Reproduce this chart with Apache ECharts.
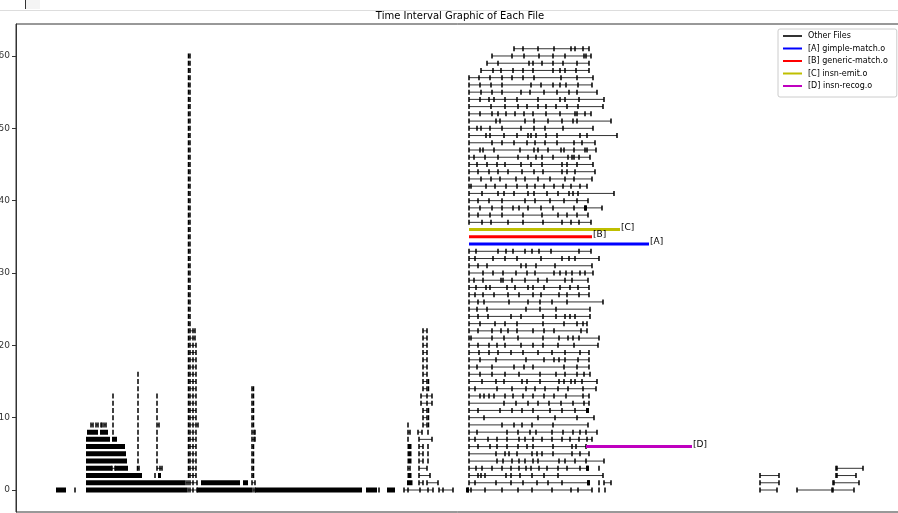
<!DOCTYPE html>
<html>
<head>
<meta charset="utf-8">
<title>Time Interval Graphic of Each File</title>
<script src="https://cdn.jsdelivr.net/npm/echarts@6/dist/echarts.min.js"></script>
<style>
  html, body { margin: 0; padding: 0; background: #fff; }
  #chart { width: 898px; height: 513px; }
</style>
</head>
<body>
<div id="chart"></div>
<script>
// y tick labels (row index of each file)
const yTicks = [0, 10, 20, 30, 40, 50, 60]

// highlighted files
const highlightNames = ['[A] gimple-match.o', '[B] generic-match.o', '[C] insn-emit.o', '[D] insn-recog.o']
const highlightTags = ['[A]', '[B]', '[C]', '[D]']
const highlightRows = [34, 35, 36, 6]
const highlightStart = [469, 469, 469, 586]
const highlightEnd = [649, 592, 620, 692]
const highlightColors = ['#0000ff', '#ff0000', '#bfbf00', '#bf00bf']

// other files: [row, t0, t1, ...] -> back to back files, a tick at every boundary
const otherFiles = [
  // left group
  [0, 75], [0, 188, 190, 193, 197], [0, 253, 255], [0, 379], [0, 404, 408, 420, 428, 433], [0, 439, 443, 453],
  [1, 186, 188, 190, 193, 197], [1, 252, 255], [1, 419, 423], [1, 427, 438],
  [2, 155], [2, 188.5, 190, 193, 196], [2, 252, 253.5], [2, 419, 430],
  [3, 112, 115], [3, 137.5, 139], [3, 157, 160, 162], [3, 188.5, 190, 193, 196], [3, 252, 253.5], [3, 408, 410], [3, 419, 427],
  [4, 138], [4, 157], [4, 188.5, 190, 193, 196], [4, 252, 253.5], [4, 419, 423], [4, 428],
  [5, 138], [5, 157], [5, 188.5, 190, 193, 196], [5, 252, 253.5], [5, 419, 423], [5, 428],
  [6, 138], [6, 157], [6, 188.5, 190, 193, 196], [6, 252, 253.5], [6, 419, 423], [6, 428],
  [7, 138], [7, 157], [7, 188.5, 190, 193, 196], [7, 252, 254, 255], [7, 408], [7, 419, 432],
  [8, 113], [8, 138], [8, 157], [8, 188.5, 190, 193, 196], [8, 252, 254, 255], [8, 408, 410], [8, 418, 422], [8, 428],
  [9, 91, 93], [9, 96, 98], [9, 101, 102], [9, 104, 106], [9, 113], [9, 138], [9, 157, 159], [9, 188.5, 190, 193, 196, 198], [9, 252, 253.5], [9, 408], [9, 423, 427], [9, 428.5],
  [10, 113], [10, 138], [10, 157], [10, 188.5, 190, 193, 196], [10, 252, 253.5], [10, 423, 427], [10, 428.5],
  [11, 113], [11, 138], [11, 157], [11, 188.5, 190, 193, 196], [11, 252, 253.5], [11, 423, 427], [11, 428.5],
  [12, 113], [12, 138], [12, 157], [12, 188.5, 190, 193, 196], [12, 252, 253.5], [12, 421, 427, 432],
  [13, 113], [13, 138], [13, 157], [13, 188.5, 190, 193, 196], [13, 252, 253.5], [13, 421, 427, 432],
  [14, 138], [14, 188.5, 190, 193, 196], [14, 252, 253.5], [14, 423, 427], [14, 428.5],
  [15, 138], [15, 188.5, 190, 193, 196], [15, 423, 427], [15, 428.5],
  [16, 138], [16, 188.5, 190, 193, 196], [16, 423, 427],
  [17, 188.5, 190, 193, 196], [17, 423, 427],
  [18, 188.5, 190, 193, 196], [18, 423, 427],
  [19, 188.5, 190, 193, 196], [19, 423, 427],
  [20, 188.5, 190, 193, 196], [20, 423, 427],
  [21, 188.5, 190, 193, 195], [21, 423, 427],
  [22, 188.5, 190, 193, 195], [22, 423, 427],
  [23, 188.5, 190], [24, 188.5, 190], [25, 188.5, 190], [26, 188.5, 190], [27, 188.5, 190],
  [28, 188.5, 190], [29, 188.5, 190], [30, 188.5, 190], [31, 188.5, 190], [32, 188.5, 190],
  [33, 188.5, 190], [34, 188.5, 190], [35, 188.5, 190], [36, 188.5, 190], [37, 188.5, 190],
  [38, 188.5, 190], [39, 188.5, 190], [40, 188.5, 190], [41, 188.5, 190], [42, 188.5, 190],
  [43, 188.5, 190], [44, 188.5, 190], [45, 188.5, 190], [46, 188.5, 190], [47, 188.5, 190],
  [48, 188.5, 190], [49, 188.5, 190], [50, 188.5, 190], [51, 188.5, 190], [52, 188.5, 190],
  [53, 188.5, 190], [54, 188.5, 190], [55, 188.5, 190], [56, 188.5, 190], [57, 188.5, 190],
  [58, 188.5, 190], [59, 188.5, 190], [60, 188.5, 190],
  // middle group
  [61, 514, 523, 538, 554, 571, 575, 583, 589],
  [60, 492, 512, 524, 539, 553, 565, 584, 586, 591],
  [59, 487, 498, 529, 533, 542, 553, 563, 577, 589],
  [58, 481, 493, 501, 513, 523, 533, 553, 560, 565, 576, 589],
  [57, 469, 479, 490, 502, 512, 523, 534, 561, 577, 593],
  [56, 469, 480, 491, 502, 531, 541, 553, 560, 566, 578, 592],
  [55, 469, 481, 492, 502, 521, 530, 544, 557, 569, 577, 597],
  [54, 469, 480, 489, 494, 505, 517, 538, 560, 565, 579, 604],
  [53, 469, 491, 505, 518, 527, 538, 546, 556, 567, 578, 603],
  [52, 469, 480, 492, 498, 506, 515, 524, 533, 546, 560, 575, 577, 585, 591],
  [51, 469, 496, 500, 525, 534, 548, 562, 573, 577, 611],
  [50, 469, 477, 481, 490, 502, 521, 534, 545, 563, 593],
  [49, 469, 486, 490, 504, 517, 528, 531, 536, 546, 557, 580, 587, 617],
  [48, 469, 492, 502, 514, 527, 535, 545, 557, 574, 582, 595],
  [47, 469, 480, 483, 494, 520, 534, 538, 548, 561, 564, 574, 585, 587, 596],
  [46, 469, 474, 485, 498, 518, 528, 536, 542, 553, 568, 572, 574, 579, 590],
  [45, 469, 477, 487, 497, 505, 521, 531, 542, 562, 567, 577, 593],
  [44, 469, 478, 489, 498, 508, 522, 534, 543, 562, 567, 575, 595],
  [43, 469, 481, 491, 500, 516, 525, 538, 550, 565, 574, 592],
  [42, 469, 471, 486, 495, 506, 517, 527, 535, 544, 554, 563, 571, 580, 587],
  [41, 469, 482, 498, 504, 514, 528, 534, 547, 558, 569, 573, 578, 614],
  [40, 469, 478, 489, 502, 525, 535, 550, 564, 577, 588],
  [39, 469, 480, 492, 502, 513, 519, 528, 541, 553, 574, 585, 586, 602],
  [38, 469, 478, 490, 502, 523, 542, 558, 567, 577, 588],
  [37, 469, 482, 491, 508, 523, 543, 562, 571, 579, 591],
  [33, 469, 476, 498, 506, 513, 525, 532, 539, 551, 579, 591],
  [32, 469, 475, 493, 505, 517, 541, 562, 569, 575, 599],
  [31, 469, 478, 487, 521, 526, 536, 555, 592],
  [30, 469, 483, 493, 503, 516, 527, 535, 554, 560, 566, 572, 580, 585, 593],
  [29, 469, 474, 483, 501, 503, 512, 525, 538, 547, 565, 572, 588],
  [28, 469, 476, 486, 490, 507, 515, 528, 533, 544, 560, 570, 578, 589],
  [27, 469, 475, 483, 494, 508, 519, 533, 541, 559, 567, 579, 589],
  [26, 469, 478, 484, 509, 528, 540, 552, 567, 603],
  [25, 469, 477, 487, 526, 540, 556, 590],
  [24, 469, 478, 488, 511, 521, 543, 556, 565, 570, 575, 590],
  [23, 469, 480, 495, 505, 517, 543, 564, 577, 583, 587],
  [22, 469, 478, 492, 501, 508, 517, 533, 544, 554, 581, 587],
  [21, 469, 471, 492, 504, 518, 543, 559, 568, 573, 579, 599],
  [20, 469, 478, 489, 497, 505, 521, 533, 543, 558, 574, 598],
  [19, 469, 479, 489, 498, 511, 523, 538, 552, 565, 580, 589],
  [18, 469, 480, 496, 526, 544, 554, 559, 565, 578, 589],
  [17, 469, 477, 492, 514, 524, 533, 564, 577, 589],
  [16, 469, 480, 492, 505, 519, 540, 556, 565, 577, 584, 590],
  [15, 469, 482, 496, 504, 522, 527, 540, 559, 564, 571, 575, 582, 597],
  [14, 469, 475, 497, 512, 526, 535, 545, 558, 568, 583, 596],
  [13, 469, 480, 484, 489, 494, 505, 513, 523, 533, 544, 554, 566, 583, 589],
  [12, 469, 504, 516, 528, 538, 549, 561, 573, 584, 589],
  [11, 469, 478, 500, 512, 522, 533, 550, 562, 575, 587, 588],
  [10, 469, 484, 538, 555, 577, 594],
  [9, 469, 502, 514, 522, 532, 553, 588],
  [8, 469, 477, 507, 518, 530, 536, 552, 563, 573, 580, 586, 597],
  [7, 469, 475, 488, 497, 507, 519, 525, 533, 542, 552, 562, 570, 579, 587, 592],
  [6, 469, 478, 490, 497, 507, 518, 527, 533, 553, 572, 576, 586],
  [5, 469, 496, 505, 509, 517, 532, 537, 542, 553, 572, 580, 589],
  [4, 469, 497, 503, 512, 519, 525, 533, 538, 559, 565, 575, 586, 604],
  [3, 469, 476, 482, 492, 502, 511, 519, 526, 531, 539, 547, 558, 567, 580, 587, 588], [3, 599],
  [2, 469, 478, 481, 485, 506, 511, 520, 532, 544, 558, 603],
  [1, 469, 475, 496, 511, 523, 537, 548, 562, 588, 589], [1, 599], [1, 604, 611],
  [0, 468, 471, 485, 502, 518, 532, 552, 571, 578, 592], [0, 599], [0, 605],
  // right group
  [3, 836, 837, 863],
  [2, 760, 779], [2, 836, 837, 856],
  [1, 760, 779], [1, 833, 834, 859],
  [0, 760, 777], [0, 797, 832, 833, 854],
]

// runs of files too short to tell apart at this scale: [row, start, end]
const denseRuns = [
  [0, 56, 66], [0, 86, 187], [0, 197, 252], [0, 255, 362], [0, 366, 377], [0, 387, 395], [0, 466, 469],
  [1, 86, 185], [1, 201, 240], [1, 243, 248], [1, 407, 412.5],
  [2, 86, 142], [2, 158, 161], [2, 407.5, 411.5],
  [3, 86, 112], [3, 115, 128],
  [4, 86, 127], [4, 407.5, 411.5],
  [5, 86, 126], [5, 407.5, 411.5],
  [6, 86, 125], [6, 407.5, 411.5],
  [7, 86, 110], [7, 112, 117],
  [8, 87, 98], [8, 100, 108],
  [39, 584, 587], [11, 586, 589], [3, 586, 589], [1, 587, 590],
]

const toLineData = (entries) => {
  const out = []
  entries.forEach((e) => {
    e.slice(1).forEach((t) => out.push([t, e[0]]))
    out.push(['-', '-'])
  })
  return out
}

const chart = echarts.init(document.getElementById('chart'))

const highlightSeries = highlightNames.map((name, i) => ({
  name,
  type: 'line',
  data: [[highlightStart[i], highlightRows[i]], [highlightEnd[i], highlightRows[i]]],
  symbol: 'none',
  lineStyle: { color: highlightColors[i], width: 3 },
  itemStyle: { color: highlightColors[i] },
  endLabel: {
    show: true,
    formatter: highlightTags[i],
    color: '#000',
    fontSize: 9,
    distance: 1,
    offset: [0, -2],
  },
  z: 5,
}))

const option = {
  animation: false,
  backgroundColor: '#fff',
  textStyle: { fontFamily: 'DejaVu Sans' },
  title: {
    text: 'Time Interval Graphic of Each File',
    left: 460,
    top: 11,
    textAlign: 'center',
    padding: 0,
    textStyle: { fontSize: 10, fontWeight: 'normal', color: '#000' },
  },
  graphic: [
    { type: 'line', shape: { x1: 0, y1: 10.5, x2: 898, y2: 10.5 }, style: { stroke: '#ddd', lineWidth: 1 } },
    { type: 'rect', shape: { x: 26, y: 0, width: 14, height: 9 }, style: { fill: '#f4f4f4' } },
    { type: 'line', shape: { x1: 25.5, y1: 0, x2: 25.5, y2: 9 }, style: { stroke: '#333', lineWidth: 1 } },
  ],
  legend: {
    orient: 'vertical',
    left: 778,
    top: 29,
    padding: [2, 9, 6, 4],
    itemWidth: 19,
    itemHeight: 3,
    itemGap: 2.5,
    backgroundColor: '#fff',
    borderColor: '#ccc',
    borderWidth: 1,
    borderRadius: 2,
    textStyle: { fontSize: 8, lineHeight: 10, color: '#000', padding: [0, 0, 0, 1] },
    data: [
      { name: 'Other Files', itemStyle: { opacity: 0 } },
      ...highlightNames.map((name) => ({ name, itemStyle: { opacity: 0 } })),
    ],
  },
  grid: {
    left: 16, right: -6, top: 24, bottom: 1,
    outerBoundsMode: 'none',
    show: true, borderColor: '#333', borderWidth: 1,
  },
  xAxis: {
    type: 'value',
    min: 16,
    max: 904,
    axisLine: { show: false },
    axisTick: { show: false },
    axisLabel: { show: false },
    splitLine: { show: false },
  },
  yAxis: {
    type: 'value',
    min: -3.04,
    max: 64.42,
    axisLine: { show: true, lineStyle: { color: '#333' } },
    axisTick: { show: true, length: 4, customValues: yTicks, lineStyle: { color: '#333' } },
    axisLabel: { customValues: yTicks, color: '#333', fontSize: 9, margin: 6 },
    splitLine: { show: false },
  },
  series: [
    {
      name: 'Other Files',
      type: 'line',
      data: toLineData(otherFiles),
      connectNulls: false,
      symbol: 'rect',
      symbolSize: [1.5, 5],
      showAllSymbol: true,
      lineStyle: { color: '#333', width: 1 },
      itemStyle: { color: '#000' },
      silent: true,
      emphasis: { disabled: true },
      z: 3,
    },
    {
      name: 'Other Files',
      type: 'line',
      data: denseRuns.flatMap((r) => [[r[1], r[0]], [r[2], r[0]], ['-', '-']]),
      connectNulls: false,
      symbol: 'none',
      lineStyle: { color: '#000', width: 5, cap: 'butt' },
      silent: true,
      emphasis: { disabled: true },
      z: 3,
    },
    ...highlightSeries,
  ],
}

chart.setOption(option)
</script>
</body>
</html>
